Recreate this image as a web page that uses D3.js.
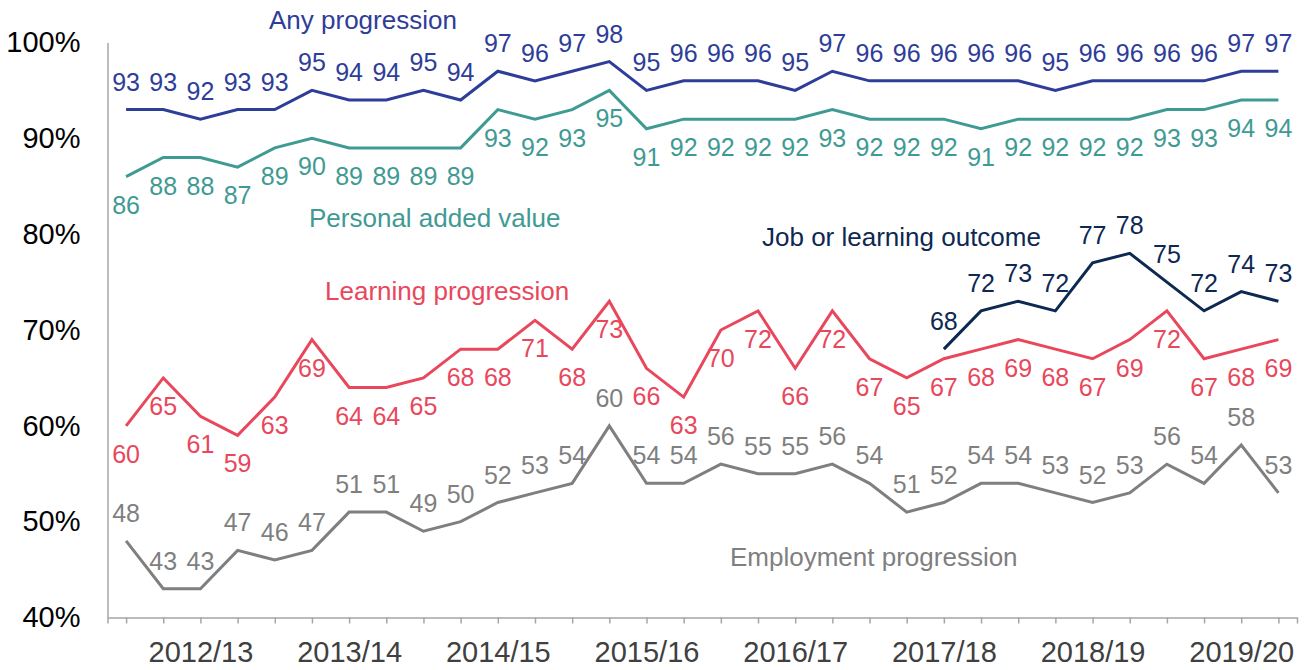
<!DOCTYPE html>
<html>
<head>
<meta charset="utf-8">
<script src="https://cdn.jsdelivr.net/npm/d3@7"></script>
<style>
  body { margin: 0; background: #fff; }
  svg { font-family: "Liberation Sans", Arial, sans-serif; }
  .axis path, .axis line { stroke: #a6a6a6; stroke-width: 1.5; }
</style>
</head>
<body>
<div id="chart"></div>
<script>
// Quarters 2012/13 Q1 .. 2019/20 Q4
const years = ['2012/13', '2013/14', '2014/15', '2015/16', '2016/17', '2017/18', '2018/19', '2019/20'];
const quarters = ['Q1', 'Q2', 'Q3', 'Q4'];
const categories = years.flatMap(y => quarters.map(q => y + ' ' + q));
// year label sits under the third quarter
const labelledCategories = years.map(y => y + ' Q3');

const anyProgression = [93, 93, 92, 93, 93, 95, 94, 94, 95, 94, 97, 96, 97, 98, 95, 96, 96, 96, 95, 97, 96, 96, 96, 96, 96, 95, 96, 96, 96, 96, 97, 97];
const personalAddedValue = [86, 88, 88, 87, 89, 90, 89, 89, 89, 89, 93, 92, 93, 95, 91, 92, 92, 92, 92, 93, 92, 92, 92, 91, 92, 92, 92, 92, 93, 93, 94, 94];
const learningProgression = [60, 65, 61, 59, 63, 69, 64, 64, 65, 68, 68, 71, 68, 73, 66, 63, 70, 72, 66, 72, 67, 65, 67, 68, 69, 68, 67, 69, 72, 67, 68, 69];
const employmentProgression = [48, 43, 43, 47, 46, 47, 51, 51, 49, 50, 52, 53, 54, 60, 54, 54, 56, 55, 55, 56, 54, 51, 52, 54, 54, 53, 52, 53, 56, 54, 58, 53];
// only reported from 2017/18 Q3
const jobOrLearning = [null, null, null, null, null, null, null, null, null, null, null, null, null, null, null, null, null, null, null, null, null, null,
  68, 72, 73, 72, 77, 78, 75, 72, 74, 73];

const yTicks = [40, 50, 60, 70, 80, 90, 100];

const series = [
  { name: 'Any progression', values: anyProgression, color: '#2e3d98', pos: 'above', nx: 269, ny: 29 },
  { name: 'Personal added value', values: personalAddedValue, color: '#3f9a94', pos: 'below', nx: 309, ny: 227 },
  { name: 'Learning progression', values: learningProgression, color: '#e8475c', pos: 'below', nx: 325, ny: 300 },
  { name: 'Employment progression', values: employmentProgression, color: '#7f7f7f', pos: 'above', nx: 730, ny: 566 },
  { name: 'Job or learning outcome', values: jobOrLearning, color: '#0d2852', pos: 'above', nx: 762, ny: 246 }
];

const width = 1306;
const height = 670;

const svg = d3.select('#chart')
  .append('svg')
  .attr('width', width)
  .attr('height', height);

const x = d3.scalePoint()
  .domain(categories)
  .range([107.5, 1297])
  .padding(0.5);

const y = d3.scaleLinear()
  .domain([40, 100])
  .range([617.5, 42.5]);

// axes
const xAxis = svg.append('g')
  .attr('class', 'axis')
  .attr('transform', 'translate(0,617.5)')
  .call(d3.axisBottom(x)
    .tickSize(6)
    .tickSizeOuter(6)
    .tickPadding(18)
    .tickFormat(d => labelledCategories.includes(d) ? d.split(' ')[0] : ''));
xAxis.selectAll('text')
  .attr('fill', '#404040')
  .style('font-size', '29px');

const yAxis = svg.append('g')
  .attr('class', 'axis')
  .attr('transform', 'translate(107.5,0)')
  .call(d3.axisLeft(y)
    .tickValues(yTicks)
    .tickSize(0)
    .tickSizeOuter(0)
    .tickPadding(27)
    .tickFormat(d => d + '%'));
yAxis.selectAll('text')
  .attr('fill', '#000')
  .style('font-size', '29px');

const line = d3.line()
  .defined(d => d != null)
  .x((d, i) => x(categories[i]))
  .y(d => y(d));

series.forEach(s => {
  svg.append('path')
    .datum(s.values)
    .attr('fill', 'none')
    .attr('stroke', s.color)
    .attr('stroke-width', 3)
    .attr('stroke-linejoin', 'miter')
    .attr('d', line);

  svg.append('g')
    .selectAll('text')
    .data(s.values.map((v, i) => ({ v, i })).filter(d => d.v != null))
    .enter()
    .append('text')
    .attr('x', d => x(categories[d.i]))
    .attr('y', d => y(d.v) + (s.pos === 'above' ? -19 : 37))
    .attr('text-anchor', 'middle')
    .attr('fill', s.color)
    .style('font-size', '25px')
    .text(d => d.v);

  svg.append('text')
    .attr('x', s.nx)
    .attr('y', s.ny)
    .attr('fill', s.color)
    .style('font-size', '26px')
    .text(s.name);
});
</script>
</body>
</html>
